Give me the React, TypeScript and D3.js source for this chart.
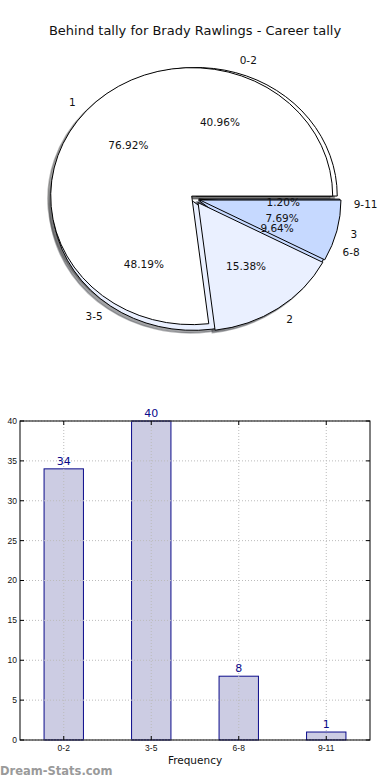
import React from 'react';
import * as d3 from 'd3';

// outer pie: career tally buckets
const bucketLabels = ['0-2', '3-5', '6-8', '9-11'];
const bucketValues = [34, 40, 8, 1];
// inner pie overlaid on the same axes
const tallyLabels = ['1', '2', '3'];
const tallyValues = [10, 2, 1];

const sliceColors = ['#ffffff', '#eaf0ff', '#c6d9ff', '#a8c4ff'];
const yTicks = [0, 5, 10, 15, 20, 25, 30, 35, 40];

const W = 390;
const H = 780;
const FONT = 'DejaVu Sans, sans-serif';

// pie geometry (axes are not square, so the pie is an ellipse)
const cx = 195.3;
const cy = 199;
const rx = 141;
const ry = 128.5;

type Slice = {
  label: string;
  value: number;
  start: number;
  end: number;
  color: string;
  ox: number;
  oy: number;
  pct: string;
  mid: number;
};

function buildSlices(labels: string[], values: number[], explode: number): Slice[] {
  const total = d3.sum(values);
  // matplotlib style: start at 3 o'clock, counter-clockwise
  const pie = d3.pie<number>().sort(null).startAngle(Math.PI / 2).endAngle(Math.PI / 2 - 2 * Math.PI);
  return pie(values).map((p, i) => {
    const mid = (p.startAngle + p.endAngle) / 2;
    return {
      label: labels[i],
      value: values[i],
      start: p.startAngle,
      end: p.endAngle,
      color: sliceColors[i % sliceColors.length],
      ox: explode * rx * Math.sin(mid),
      oy: -explode * ry * Math.cos(mid),
      pct: d3.format('.2f')((values[i] / total) * 100) + '%',
      mid,
    };
  });
}

function darker(c: string) {
  const col = d3.rgb(c);
  return d3.rgb(col.r * 0.3, col.g * 0.3, col.b * 0.3).formatHex();
}

export default function App() {
  const outer = buildSlices(bucketLabels, bucketValues, 0.024);
  const inner = buildSlices(tallyLabels, tallyValues, 0.034);
  const all = [...outer, ...inner];

  const arc = d3.arc<any>().innerRadius(0).outerRadius(1);
  const wedgePath = (s: Slice) => arc({ startAngle: s.start, endAngle: s.end }) as string;

  const shadowDx = -0.02 * rx;
  const shadowDy = 0.02 * ry;

  // bar chart
  const plot = { left: 20, right: 370, top: 421, bottom: 740 };
  const x = d3.scaleBand<string>().domain(bucketLabels).range([plot.left, plot.right]).paddingInner(0.55).paddingOuter(0.275);
  const y = d3.scaleLinear().domain([0, 40]).range([plot.bottom, plot.top]);
  const navy = '#0a0a8a';
  const tickFont = 'Liberation Sans Narrow, Liberation Sans, sans-serif';

  return (
    <svg width={W} height={H} style={{ position: 'absolute', left: 0, top: 0, background: '#fff' }} fontFamily={FONT}>
      <rect x={0} y={0} width={W} height={H} fill="#fff" />
      <text x={195} y={35} textAnchor="middle" fontSize={13} fill="#111">
        Behind tally for Brady Rawlings - Career tally
      </text>

      {/* shadows first, then wedges */}
      {all.map((s, i) => (
        <path
          key={'sh' + i}
          d={wedgePath(s)}
          transform={`translate(${cx + s.ox + shadowDx},${cy + s.oy + shadowDy}) scale(${rx},${ry})`}
          fill={darker(s.color)}
          fillOpacity={0.5}
          stroke={darker(s.color)}
          strokeOpacity={0.4}
          strokeWidth={1.5}
          vectorEffect="non-scaling-stroke"
        />
      ))}
      {all.map((s, i) => (
        <path
          key={'w' + i}
          d={wedgePath(s)}
          transform={`translate(${cx + s.ox},${cy + s.oy}) scale(${rx},${ry})`}
          fill={s.color}
          stroke="#000"
          strokeWidth={1}
          strokeLinejoin="miter"
          vectorEffect="non-scaling-stroke"
        />
      ))}
      {all.map((s, i) => {
        const lx = cx + s.ox + 1.1 * rx * Math.sin(s.mid);
        const ly = cy + s.oy - 1.1 * ry * Math.cos(s.mid);
        const px = cx + s.ox + 0.6 * rx * Math.sin(s.mid);
        const py = cy + s.oy - 0.6 * ry * Math.cos(s.mid);
        return (
          <g key={'t' + i} fontSize={10.5} fill="#111">
            <text x={lx} y={ly} dy="0.35em" textAnchor={Math.sin(s.mid) > 0 ? 'start' : 'end'}>
              {s.label}
            </text>
            <text x={px} y={py} dy="0.35em" textAnchor="middle">
              {s.pct}
            </text>
          </g>
        );
      })}

      {/* bar chart */}
      {bucketLabels.map((c, i) => (
        <rect
          key={'b' + c}
          x={x(c)}
          y={y(bucketValues[i])}
          width={x.bandwidth()}
          height={plot.bottom - y(bucketValues[i])}
          fill="#ccccE3"
          stroke={navy}
          strokeWidth={1}
        />
      ))}
      {yTicks.map((t) => (
        <line key={'gy' + t} x1={plot.left} x2={plot.right} y1={y(t)} y2={y(t)} stroke="#bbb" strokeDasharray="1,2" />
      ))}
      {bucketLabels.map((c) => {
        const xc = (x(c) as number) + x.bandwidth() / 2;
        return <line key={'gx' + c} x1={xc} x2={xc} y1={plot.top} y2={plot.bottom} stroke="#bbb" strokeDasharray="1,2" />;
      })}
      <rect x={plot.left} y={plot.top} width={plot.right - plot.left} height={plot.bottom - plot.top} fill="none" stroke="#000" strokeWidth={1} />
      {yTicks.map((t) => (
        <g key={'ty' + t}>
          <line x1={plot.left} x2={plot.left + 4} y1={y(t)} y2={y(t)} stroke="#000" />
          <line x1={plot.right - 4} x2={plot.right} y1={y(t)} y2={y(t)} stroke="#000" />
          <text x={plot.left - 3} y={y(t)} dy="0.35em" textAnchor="end" fontSize={8.5} fontFamily={tickFont} fill="#111">
            {t}
          </text>
        </g>
      ))}
      {bucketLabels.map((c, i) => {
        const xc = (x(c) as number) + x.bandwidth() / 2;
        return (
          <g key={'tx' + c}>
            <line x1={xc} x2={xc} y1={plot.bottom} y2={plot.bottom - 4} stroke="#000" />
            <line x1={xc} x2={xc} y1={plot.top} y2={plot.top + 4} stroke="#000" />
            <text x={xc} y={plot.bottom + 11} textAnchor="middle" fontSize={8.5} fontFamily={tickFont} fill="#111">
              {c}
            </text>
            <text x={xc} y={y(bucketValues[i]) - 4} textAnchor="middle" fontSize={11} fill={navy}>
              {bucketValues[i]}
            </text>
          </g>
        );
      })}
      <text x={195} y={764} textAnchor="middle" fontSize={10.5} fill="#111">
        Frequency
      </text>
      <text x={0} y={775} fontSize={11.5} fontWeight="bold" fill="#9a9a9a">
        Dream-Stats.com
      </text>
    </svg>
  );
}
